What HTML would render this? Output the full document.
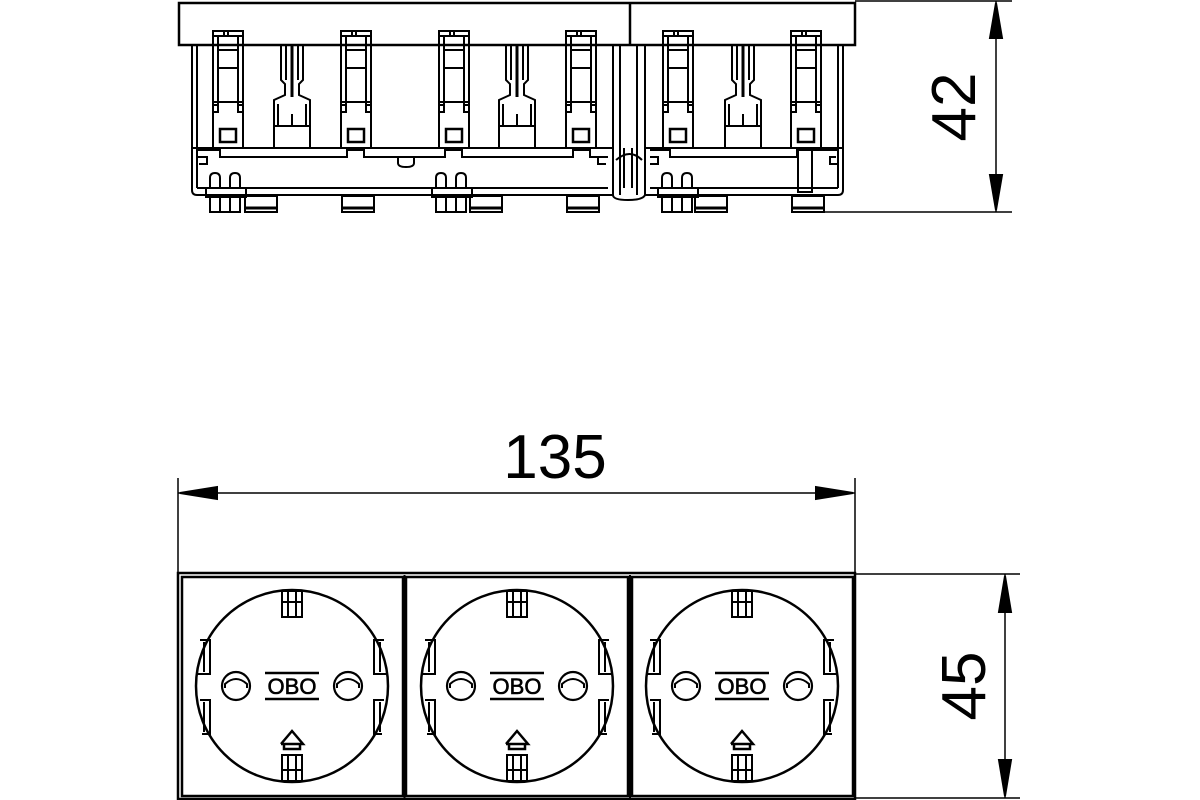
<!DOCTYPE html>
<html><head><meta charset="utf-8"><style>
html,body{margin:0;padding:0;background:#fff;}
svg{display:block;}
text{font-family:"Liberation Sans",sans-serif;fill:#000;}
</style></head><body>
<svg width="1200" height="800" viewBox="0 0 1200 800" xmlns="http://www.w3.org/2000/svg" fill="none" stroke="#000" stroke-width="2">
<defs>
<g id="clip">
  <rect x="0" y="31" width="30" height="117"/>
  <line x1="5" y1="36" x2="5" y2="105"/><line x1="25" y1="36" x2="25" y2="105"/>
  <line x1="0" y1="36" x2="30" y2="36"/><line x1="5" y1="50" x2="25" y2="50"/><line x1="5" y1="68" x2="25" y2="68"/>
  <rect x="0" y="105" width="5" height="7"/><rect x="25" y="105" width="5" height="7"/>
  <line x1="0" y1="102" x2="30" y2="102"/>
  <rect x="7" y="129" width="16" height="13" stroke-width="2.5"/>
  <line x1="11" y1="32" x2="11" y2="36"/><line x1="15" y1="32" x2="15" y2="36"/>
</g>
<g id="post">
  <polyline points="-11,45 -11,80 -7,84 -7,95 -18,100 -18,148 18,148 18,100 7,95 7,84 11,80 11,45"/>
  <line x1="-6" y1="45" x2="-6" y2="80"/><line x1="6" y1="45" x2="6" y2="80"/>
  <line x1="0" y1="45" x2="0" y2="97" stroke-width="3"/>
  <line x1="-18" y1="126" x2="18" y2="126"/>
  <line x1="-14" y1="104" x2="-14" y2="126"/><line x1="14" y1="104" x2="14" y2="126"/>
  <line x1="0" y1="114" x2="0" y2="126"/>
</g>
<g id="foot">
  <rect x="-16" y="196" width="32" height="16"/>
  <line x1="-16" y1="208" x2="16" y2="208" stroke-width="3"/>
</g>
<g id="term">
  <rect x="-18" y="188" width="40" height="9"/>
  <path d="M-14,188 v-10 q0,-5 5,-5 q5,0 5,5 v10 M6,188 v-10 q0,-5 5,-5 q5,0 5,5 v10"/>
  <rect x="-14" y="197" width="30" height="15"/>
  <line x1="-4" y1="197" x2="-4" y2="212"/><line x1="6" y1="197" x2="6" y2="212"/>
</g>
<g id="sock">
  <circle cx="0" cy="0" r="96" stroke-width="2.5"/>
  <rect x="-10" y="-95" width="20" height="26"/>
  <line x1="-4" y1="-95" x2="-4" y2="-69"/><line x1="4" y1="-95" x2="4" y2="-69"/><line x1="-10" y1="-84" x2="10" y2="-84"/>
  <rect x="-10" y="69" width="20" height="26"/>
  <line x1="-4" y1="69" x2="-4" y2="95"/><line x1="4" y1="69" x2="4" y2="95"/><line x1="-10" y1="84" x2="10" y2="84"/>
  <path d="M-92,-46 L-82,-46 L-82,-12 L-96,-12 M-92,14 L-82,14 L-82,48 L-90,48"/>
  <path d="M92,-46 L82,-46 L82,-12 L96,-12 M92,14 L82,14 L82,48 L90,48"/>
  <line x1="-88" y1="-44" x2="-88" y2="-14"/><line x1="88" y1="-44" x2="88" y2="-14"/>
  <line x1="-88" y1="16" x2="-88" y2="46"/><line x1="88" y1="16" x2="88" y2="46"/>
  <circle cx="-56" cy="0" r="14" stroke-width="2.2"/>
  <circle cx="56" cy="0" r="14" stroke-width="2.2"/>
  <path d="M-67,2 v-4 q11,-10 22,0 v4 M45,2 v-4 q11,-10 22,0 v4"/>
  <line x1="-27" y1="-13" x2="27" y2="-13" stroke-width="2.5"/>
  <line x1="-27" y1="13" x2="27" y2="13" stroke-width="2.5"/>
  <path d="M-11,58 L0,45 L11,58 L-11,58 M-8,58 v5 h16 v-5" stroke-width="2.5"/>
</g>
</defs>

<!-- TOP VIEW -->
<rect x="179" y="3" width="676" height="42" stroke-width="2.5"/>
<line x1="630" y1="3" x2="630" y2="45" stroke-width="2.5"/>
<path d="M192,45 V190 q0,5 5,5 H613 V45 M197,45 V188" />
<path d="M645,45 V195 H838 q5,0 5,-5 V45 M838,45 V188"/>
<path d="M613,45 V195 q0,5 15,5 q15,0 17,-5 M620,45 V195 M637,45 V195 M624,148 v40 M632,148 v40 M616,160 q14,-12 26,0"/>
<line x1="192" y1="148" x2="613" y2="148"/><line x1="645" y1="148" x2="843" y2="148"/>
<path d="M197,150 H220 V157 H347 V150 H364 V157 H445 V150 H462 V157 H573 V150 H590 V157 H608"/>
<path d="M650,150 H670 V157 H797 V150 H838"/>
<line x1="197" y1="188" x2="608" y2="188"/><line x1="650" y1="188" x2="838" y2="188"/>
<path d="M398,157 v6 q0,4 8,4 q8,0 8,-4 v-6"/>
<path d="M197,157 h10 v7 h-8 M606,157 h-8 v7 h8 M650,157 h8 v7 h-8 M836,157 h-6 v7 h8"/>
<use href="#clip" x="213"/><use href="#clip" x="341"/><use href="#clip" x="439"/>
<use href="#clip" x="566"/><use href="#clip" x="663"/><use href="#clip" x="791"/>
<use href="#post" x="292"/><use href="#post" x="517"/><use href="#post" x="743"/>
<use href="#term" x="224"/><use href="#term" x="450"/><use href="#term" x="676"/>
<use href="#foot" x="261"/><use href="#foot" x="358"/><use href="#foot" x="486"/><use href="#foot" x="583"/><use href="#foot" x="711"/><use href="#foot" x="808"/>
<rect x="798" y="150" width="14" height="42"/>

<!-- dim 42 -->
<line x1="855" y1="1" x2="1012" y2="1" stroke-width="1.5"/>
<line x1="820" y1="212" x2="1012" y2="212" stroke-width="1.5"/>
<line x1="996" y1="1" x2="996" y2="212" stroke-width="1.5"/>
<path d="M996,3 L990,38 L1002,38 Z M996,210 L990,175 L1002,175 Z" fill="#000"/>
<text x="0" y="0" font-size="62" transform="translate(975,107) rotate(-90)" text-anchor="middle" stroke="none">42</text>

<!-- dim 135 -->
<line x1="178" y1="478" x2="178" y2="573" stroke-width="1.5"/>
<line x1="855" y1="478" x2="855" y2="573" stroke-width="1.5"/>
<line x1="178" y1="493" x2="855" y2="493" stroke-width="1.5"/>
<path d="M180,493 L217,487 L217,499 Z M853,493 L816,487 L816,499 Z" fill="#000"/>
<text x="555" y="478" font-size="62" text-anchor="middle" stroke="none">135</text>

<!-- dim 45 -->
<line x1="855" y1="574" x2="1020" y2="574" stroke-width="1.5"/>
<line x1="855" y1="798" x2="1020" y2="798" stroke-width="1.5"/>
<line x1="1005" y1="574" x2="1005" y2="798" stroke-width="1.5"/>
<path d="M1005,576 L999,612 L1011,612 Z M1005,796 L999,760 L1011,760 Z" fill="#000"/>
<text x="0" y="0" font-size="62" transform="translate(985,686) rotate(-90)" text-anchor="middle" stroke="none">45</text>

<!-- BOTTOM VIEW -->
<rect x="178" y="573" width="677" height="226" stroke-width="2.5"/>
<rect x="182" y="577" width="221" height="219" stroke-width="2.5"/>
<rect x="406" y="577" width="222" height="219" stroke-width="2.5"/>
<rect x="632" y="577" width="221" height="219" stroke-width="2.5"/>
<line x1="404.5" y1="575" x2="404.5" y2="798"/><line x1="630" y1="575" x2="630" y2="798"/>
<use href="#sock" x="292" y="686"/>
<use href="#sock" x="517" y="686"/>
<use href="#sock" x="742" y="686"/>
<g stroke="#000" stroke-width="0.6" font-size="22" text-anchor="middle">
<text x="292" y="694">OBO</text><text x="517" y="694">OBO</text><text x="742" y="694">OBO</text>
</g>
</svg>
</body></html>
